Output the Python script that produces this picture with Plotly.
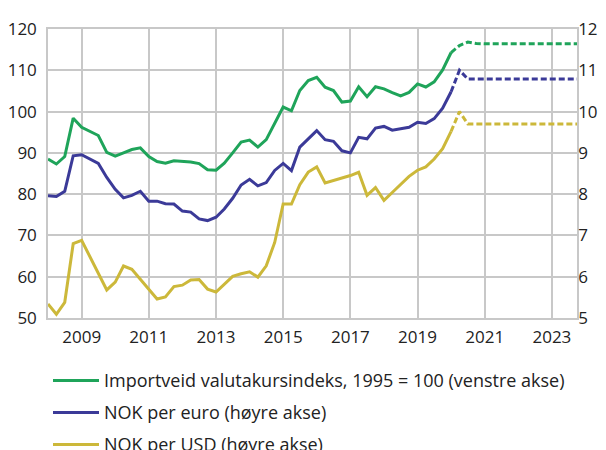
import plotly.graph_objects as go
import pandas as pd

# Quarterly dates, 2008Q1 .. 2023Q4
dates = pd.date_range("2008-01-01", "2023-10-01", freq="QS").strftime("%Y-%m-%d").tolist()

# Solid (historical) part: 2008Q1 .. 2020Q1
importveid = [88.5, 87.3, 89.1, 98.4, 96.2, 95.2, 94.2, 90.1, 89.2, 90.0, 90.8, 91.2,
              89.1, 87.9, 87.5, 88.1, 87.9, 87.8, 87.4, 85.9, 85.8, 87.5, 90.0, 92.6,
              93.1, 91.4, 93.2, 97.0, 101.1, 100.2, 105.1, 107.5, 108.3, 105.9, 105.1, 102.3,
              102.55, 106.0, 103.6, 106.0, 105.5, 104.6, 103.8, 104.65, 106.7, 105.95, 107.2, 110.1,
              114.3]
nok_euro = [7.96, 7.945, 8.07, 8.93, 8.955, 8.86, 8.745, 8.405, 8.115, 7.91, 7.97, 8.07,
            7.83, 7.83, 7.77, 7.76, 7.59, 7.565, 7.40, 7.36, 7.44, 7.64, 7.90, 8.22,
            8.36, 8.20, 8.28, 8.575, 8.745, 8.57, 9.14, 9.34, 9.54, 9.32, 9.28, 9.05,
            9.00, 9.375, 9.34, 9.60, 9.64, 9.55, 9.58, 9.62, 9.74, 9.71, 9.83, 10.08,
            10.48]
nok_usd = [5.34, 5.09, 5.38, 6.80, 6.88, 6.49, 6.11, 5.68, 5.87, 6.26, 6.18, 5.94,
           5.72, 5.46, 5.51, 5.76, 5.795, 5.92, 5.93, 5.70, 5.63, 5.82, 6.01, 6.07,
           6.12, 5.99, 6.265, 6.83, 7.76, 7.76, 8.23, 8.535, 8.66, 8.27, 8.325, 8.38,
           8.45, 8.53, 7.97, 8.16, 7.85, 8.04, 8.24, 8.43, 8.58, 8.66, 8.85, 9.10,
           9.52]

# Dashed (projection) part: 2020Q1 .. 2023Q4
importveid_proj = [114.3, 116.0, 116.85, 116.5] + [116.4] * 12
nok_euro_proj = [10.48, 11.00, 10.79] + [10.79] * 13
nok_usd_proj = [9.52, 10.00, 9.70] + [9.70] * 13

legend_names = ["Importveid valutakursindeks, 1995 = 100 (venstre akse)",
                "NOK per euro (høyre akse)",
                "NOK per USD (høyre akse)"]
left_ticks = [50, 60, 70, 80, 90, 100, 110, 120]
right_ticks = [5, 6, 7, 8, 9, 10, 11, 12]
x_tick_years = ["2009", "2011", "2013", "2015", "2017", "2019", "2021", "2023"]

GREEN = "#1FA45A"
BLUE = "#3B3A98"
YELLOW = "#CCB83A"
GRID = "#C8C8C8"
colors = [GREEN, BLUE, YELLOW]

n_hist = len(importveid)
hist_dates = dates[:n_hist]
proj_dates = dates[n_hist - 1:]

fig = go.Figure()
fig.add_trace(go.Scatter(x=hist_dates, y=importveid, mode="lines", name=legend_names[0],
                         line=dict(color=GREEN, width=3)))
fig.add_trace(go.Scatter(x=hist_dates, y=nok_euro, mode="lines", name=legend_names[1],
                         line=dict(color=BLUE, width=3), yaxis="y2"))
fig.add_trace(go.Scatter(x=hist_dates, y=nok_usd, mode="lines", name=legend_names[2],
                         line=dict(color=YELLOW, width=3), yaxis="y2"))
fig.add_trace(go.Scatter(x=proj_dates, y=importveid_proj, mode="lines", name=legend_names[0],
                         line=dict(color=GREEN, width=3, dash="6px,3px")))
fig.add_trace(go.Scatter(x=proj_dates, y=nok_euro_proj, mode="lines", name=legend_names[1],
                         line=dict(color=BLUE, width=3, dash="6px,3px"), yaxis="y2"))
fig.add_trace(go.Scatter(x=proj_dates, y=nok_usd_proj, mode="lines", name=legend_names[2],
                         line=dict(color=YELLOW, width=3, dash="6px,3px"), yaxis="y2"))

# The page body has an 8px default margin: lay out in page pixels, then offset.
OFF = 8
FIG_W, FIG_H = 606 - OFF, 450 - OFF
PLOT_L, PLOT_R, PLOT_T, PLOT_B = 48 - OFF, 577 - OFF, 29 - OFF, 318 - OFF
W = PLOT_R - PLOT_L
H = PLOT_B - PLOT_T
def px_x(px):
    return (px - OFF - PLOT_L) / W
def px_y(py):
    return (PLOT_B - (py - OFF)) / H

# Legend drawn below the plot (last row clipped at the bottom as in the original)
shapes = []
annotations = []
row_y = [380.5, 412.5, 444.5]
for name, col, ry in zip(legend_names, colors, row_y):
    shapes.append(dict(type="line", xref="paper", yref="paper",
                       x0=px_x(53), x1=px_x(99), y0=px_y(ry), y1=px_y(ry),
                       line=dict(color=col, width=3)))
    annotations.append(dict(xref="paper", yref="paper", x=px_x(102), y=px_y(ry - 1),
                            xanchor="left", yanchor="middle", showarrow=False, text=name,
                            font=dict(family="Open Sans", size=18, color="#222222")))

font = dict(family="Open Sans", size=17, color="#222222")
fig.update_layout(
    width=FIG_W, height=FIG_H,
    margin=dict(l=PLOT_L, r=FIG_W - PLOT_R, t=PLOT_T, b=FIG_H - PLOT_B, autoexpand=False),
    paper_bgcolor="white", plot_bgcolor="white",
    font=font,
    showlegend=False,
    shapes=shapes,
    annotations=annotations,
    xaxis=dict(type="date", range=[dates[0], dates[-1]],
               tickvals=[y + "-01-01" for y in x_tick_years], ticktext=x_tick_years,
               showgrid=True, gridcolor=GRID, gridwidth=1.5,
               showline=True, linecolor=GRID, linewidth=1.5, mirror=True,
               ticks="", ticklabelstandoff=3, zeroline=False),
    yaxis=dict(range=[50, 120], tickvals=left_ticks,
               showgrid=True, gridcolor=GRID, gridwidth=1.5,
               showline=True, linecolor=GRID, linewidth=1.5,
               ticks="", ticklabelstandoff=6, zeroline=False),
    yaxis2=dict(range=[5, 12], tickvals=right_ticks, overlaying="y", side="right",
                showgrid=False, showline=True, linecolor=GRID, linewidth=1.5,
                ticks="", ticklabelstandoff=-4, zeroline=False,
                tickfont=dict(family="Open Sans", size=17, color="#222222")),
)

fig.write_html("out.html")
